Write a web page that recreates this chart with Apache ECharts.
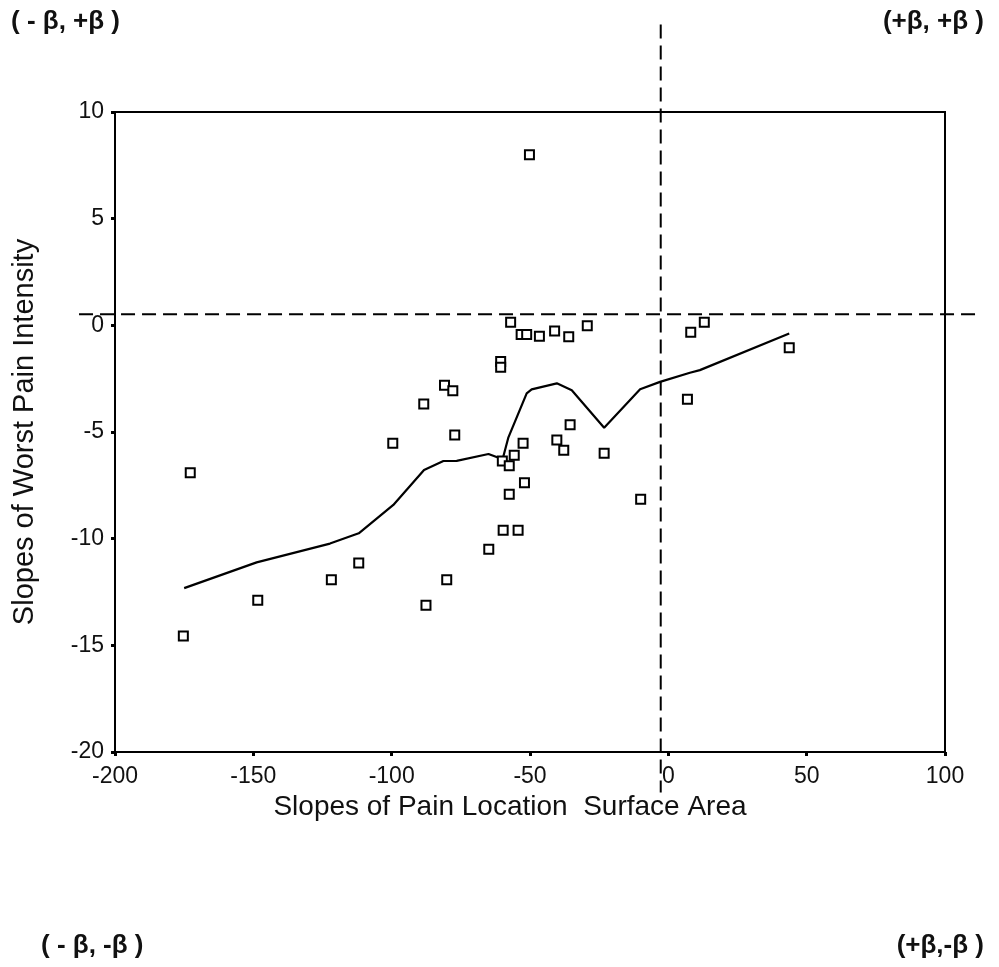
<!DOCTYPE html>
<html><head><meta charset="utf-8">
<script src="https://cdn.jsdelivr.net/npm/echarts@6/dist/echarts.min.js"></script>
<style>html,body{margin:0;padding:0;background:#fff}#c{width:999px;height:967px}</style>
</head><body><div id="c"></div>
<script>
// Scatter: slopes of pain location surface area (x) vs slopes of worst pain intensity (y)
const pointsX = [-172.8,-175.3,-148.4,-121.8,-111.9,-99.6,-88.4,-87.6,-80.9,-80.1,-77.9,-77.2,-64.9,-60.6,-60.6,-60.0,-59.7,-57.5,-57.5,-57.0,-55.7,-54.3,-53.2,-52.5,-52.0,-51.2,-50.2,-46.6,-41.1,-40.3,-37.8,-36.0,-35.5,-29.3,-23.2,-10.0,6.9,8.1,13.0,43.7];
const pointsY = [-6.91,-14.56,-12.89,-11.93,-11.14,-5.53,-3.69,-13.12,-2.81,-11.93,-3.07,-5.14,-10.50,-1.69,-1.96,-6.36,-9.61,-6.58,-7.92,0.14,-6.09,-9.61,-0.43,-5.53,-7.38,-0.43,8.00,-0.51,-0.26,-5.38,-5.85,-0.54,-4.66,-0.02,-6.00,-8.15,-3.46,-0.33,0.14,-1.05];
// Smoothed fit line
const fitX = [-175.0,-148.8,-122.3,-111.9,-99.4,-88.3,-81.3,-76.5,-65.0,-59.9,-57.8,-51.2,-49.4,-40.3,-34.9,-23.2,-10.2,-3.0,7.8,11.4,43.7];
const fitY = [-12.32,-11.11,-10.23,-9.75,-8.42,-6.78,-6.36,-6.35,-6.03,-6.28,-5.25,-3.19,-3.00,-2.72,-3.04,-4.80,-3.00,-2.65,-2.22,-2.10,-0.38];
// Reference (quadrant) lines
const refX = -2.75;   // vertical dashed line position
const refY = 0.52;    // horizontal dashed line position
const vLineSpan = [14.1, -21.9];   // y extent of vertical dashed line
const hLineSpan = [-213, 111];     // x extent of horizontal dashed line
const xTicks = {min:-200, max:100, interval:50};
const yTicks = {min:-20, max:10, interval:5};
const cornerLabels = ['( - β, +β )','(+β, +β )','( - β, -β )','(+β,-β )'];

const chart = echarts.init(document.getElementById('c'));
const font = 'Liberation Sans, Arial, sans-serif';
const cornerStyle = {fontFamily:font,fontSize:26,fontWeight:'bold',color:'#111'};
chart.setOption({
  backgroundColor:'#fff',
  animation:false,
  title:[
    {text:cornerLabels[0], left:6, top:4, textStyle:cornerStyle},
    {text:cornerLabels[1], right:10, top:4, textStyle:cornerStyle},
    {text:cornerLabels[2], left:36, top:928, textStyle:cornerStyle},
    {text:cornerLabels[3], right:10, top:928, textStyle:cornerStyle}
  ],
  grid:{left:115,right:54,top:112,bottom:215,show:true,borderColor:'#000',borderWidth:2,backgroundColor:'transparent'},
  xAxis:{type:'value',min:xTicks.min,max:xTicks.max,interval:xTicks.interval,
    name:'Slopes of Pain Location  Surface Area',nameLocation:'middle',nameGap:27,
    nameTextStyle:{fontFamily:font,fontSize:28,color:'#111',padding:[0,40,0,0]},
    axisLine:{show:true,onZero:false,lineStyle:{color:'#000',width:2}},
    axisTick:{show:true,length:4,lineStyle:{color:'#000',width:3}},
    axisLabel:{fontFamily:font,fontSize:23,color:'#111',margin:13},
    splitLine:{show:false}},
  yAxis:{type:'value',min:yTicks.min,max:yTicks.max,interval:yTicks.interval,
    name:'Slopes of Worst Pain Intensity',nameLocation:'middle',nameGap:76,
    nameTextStyle:{fontFamily:font,fontSize:29,color:'#111'},
    axisLine:{show:true,onZero:false,lineStyle:{color:'#000',width:2}},
    axisTick:{show:true,length:4,lineStyle:{color:'#000',width:3}},
    axisLabel:{fontFamily:font,fontSize:23,color:'#111',margin:11},
    splitLine:{show:false}},
  series:[
    {type:'line',data:fitX.map((x,i)=>[x,fitY[i]]),symbol:'none',
      lineStyle:{color:'#000',width:2.2},z:2},
    {type:'scatter',data:pointsX.map((x,i)=>[x,pointsY[i]]),symbol:'rect',symbolSize:9,
      itemStyle:{color:'#fff',borderColor:'#000',borderWidth:2,opacity:1},z:3}
  ]
});
// Quadrant dashed lines positioned through the chart's own scales
function px(x,y){return chart.convertToPixel({gridIndex:0},[x,y]);}
const v0 = px(refX,vLineSpan[0]), v1 = px(refX,vLineSpan[1]);
const h0 = px(hLineSpan[0],refY), h1 = px(hLineSpan[1],refY);
const dashStyle = {stroke:'#000',lineWidth:2,lineDash:[14,7],fill:null};
chart.setOption({graphic:[
  {type:'line',shape:{x1:v0[0],y1:v0[1],x2:v1[0],y2:v1[1]},style:dashStyle,z:1},
  {type:'line',shape:{x1:h0[0],y1:h0[1],x2:h1[0],y2:h1[1]},style:dashStyle,z:1}
]});
</script></body></html>
